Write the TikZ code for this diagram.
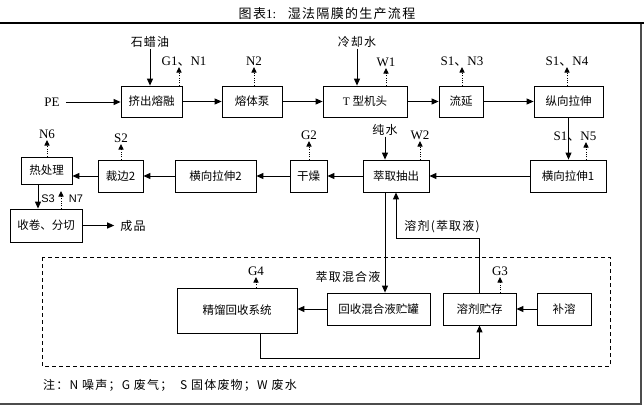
\documentclass[tikz,border=0pt]{standalone}
\usepackage{fontspec}
\setmainfont{Liberation Serif}
\setsansfont{Liberation Sans}
\newfontfamily\cjk{Noto Sans CJK SC}
\newfontfamily\cjkw[LetterSpace=10]{Noto Sans CJK SC}
\usetikzlibrary{arrows.meta}

\begin{document}
\begin{tikzpicture}[x=1pt, y=-1pt,
    box/.style={rectangle, draw=black, line width=0.8pt, inner sep=0pt, minimum height=32pt, align=center, font=\cjk\fontsize{11.5}{13}\selectfont},
    arrow/.style={-{Triangle[length=7pt,width=6pt]}, line width=1pt},
    emit/.style={-{Triangle[length=5.5pt,width=5pt]}, dash pattern=on 1pt off 1.3pt, line width=0.9pt},
    lbl/.style={inner sep=1pt, font=\fontsize{13}{15}\selectfont},
    sflbl/.style={inner sep=1pt, font=\sffamily\fontsize{11}{13}\selectfont},
    note/.style={inner sep=1pt, font=\cjkw\fontsize{12}{14}\selectfont}
]
\useasboundingbox (0,0) rectangle (644,407);

\node[note, font=\cjkw\fontsize{13}{15}\selectfont] (title) at (327,14) {图表{\rmfamily 1:}\hspace{0.9em}湿法隔膜的生产流程};
\draw[line width=2pt] (0,23) -- (644,23);
\draw[gray!60!black, line width=1.2pt] (641,24) -- (641,404) -- (0,404);

\node[box, minimum width=61pt, minimum height=31pt] (extr) at (151.5,101.5) {挤出熔融};
\node[box, minimum width=60pt, minimum height=31pt] (pump) at (252,101.5) {熔体泵};
\node[box, minimum width=84pt, minimum height=31pt] (tdie) at (365,101.5) {{\rmfamily T} 型机头};
\node[box, minimum width=44pt, minimum height=31pt] (cast) at (461,101.5) {流延};
\node[box, minimum width=69pt, minimum height=31pt] (mdo) at (568.5,101.5) {纵向拉伸};

\node[box, minimum width=76pt] (tdo1) at (568,176) {横向拉伸1};
\node[box, minimum width=66pt] (extract) at (396,176) {萃取抽出};
\node[box, minimum width=37pt] (dry) at (308.5,176) {干燥};
\node[box, minimum width=81pt] (tdo2) at (215.5,176) {横向拉伸2};
\node[box, minimum width=45pt] (trim) at (120.5,176) {裁边2};
\node[box, minimum width=51pt, minimum height=27pt] (heat) at (46.5,170.5) {热处理};
\node[box, minimum width=72pt, minimum height=33pt] (wind) at (46,225.5) {收卷、分切};

\draw[dash pattern=on 4pt off 3pt, line width=0.9pt] (42,257) rectangle (610,366);
\node[box, minimum width=120pt, minimum height=45pt] (rect) at (237,310.5) {精馏回收系统};
\node[box, minimum width=103pt] (tank) at (378.5,309) {回收混合液贮罐};
\node[box, minimum width=73pt] (store) at (479.5,309) {溶剂贮存};
\node[box, minimum width=54pt] (makeup) at (564,309) {补溶};

\node[lbl] (pe) at (52,102) {PE};
\node[note] (wax) at (150,42) {石蜡油};
\node[note] (cool) at (357,42) {冷却水};
\node[note] (water) at (385,130) {纯水};
\node[note] (mix) at (348,277) {萃取混合液};
\node[note] (solv) at (442,227) {溶剂(萃取液)};
\node[note] (prod) at (133,225.5) {成品};

\node[lbl, anchor=south] (g1) at (184,67) {G1{\cjk 、}N1};
\node[lbl, anchor=south] (n2) at (254,67) {N2};
\node[lbl, anchor=south] (w1) at (386,68) {W1};
\node[lbl, anchor=south] (n3) at (462,67) {S1{\cjk 、}N3};
\node[lbl, anchor=south] (n4) at (567,67) {S1{\cjk 、}N4};
\node[lbl, anchor=south] (n6) at (47,140) {N6};
\node[lbl, anchor=south] (s2) at (121,144) {S2};
\node[lbl, anchor=south] (g2) at (309,141) {G2};
\node[lbl, anchor=south] (w2) at (420,141) {W2};
\node[lbl, anchor=south] (n5) at (575,142) {S1{\cjk 、}N5};
\node[lbl, anchor=south] (g4) at (256,277) {G4};
\node[lbl, anchor=south] (g3) at (500,277) {G3};
\node[sflbl] (s3) at (48,199) {S3};
\node[sflbl] (n7) at (76,199) {N7};
\node[note, anchor=west] (legend) at (42,385) {注：N 噪声；G 废气；\ \ S 固体废物；W 废水};

\coordinate (g1tip) at (179,67);
\coordinate (n5tip) at (586,142);
\coordinate (n7tip) at (61,191);

\foreach \a/\b in {extr/pump, pump/tdie, tdie/cast, cast/mdo, tdo1/extract, extract/dry, dry/tdo2, tdo2/trim, makeup/store}
    \draw[arrow] (\a) -- (\b);
\draw[arrow] (trim.west) -- (trim.west -| heat.east);
\draw[arrow] (tank) -- (tank -| rect.east);
\draw[arrow] (mdo.south) -- (mdo.south |- tdo1.north);
\draw[arrow, shorten <=5pt] (pe) -- (pe -| extr.west);
\draw[arrow] (wax) -- (wax |- extr.north);
\draw[arrow] (cool) -- (cool |- tdie.north);
\draw[arrow] (water) -- (water |- extract.north);
\draw[arrow] ([xshift=-8.5pt]heat.south) -- ([xshift=-8.5pt]heat.south |- wind.north);
\draw[arrow, shorten >=5pt] (wind) -- (prod);
\draw[arrow] ([xshift=-11pt]extract.south) -- ([xshift=-11pt]extract.south |- tank.north);
\draw[arrow] (store.north) -- ++(0,-54) -| (extract.south);
\draw[arrow] ([xshift=23pt]rect.south) -- ++(0,25) -| (store.south);

\foreach \b/\l in {pump/n2, tdie/w1, cast/n3, mdo/n4, heat/n6, trim/s2, dry/g2, extract/w2, rect/g4, store/g3}
    \draw[emit] (\b.north -| \l.south) -- (\l.south);
\draw[emit] (extr.north -| g1tip) -- (g1tip);
\draw[emit] (tdo1.north -| n5tip) -- (n5tip);
\draw[emit] (wind.north -| n7tip) -- (n7tip);
\end{tikzpicture}
\end{document}
